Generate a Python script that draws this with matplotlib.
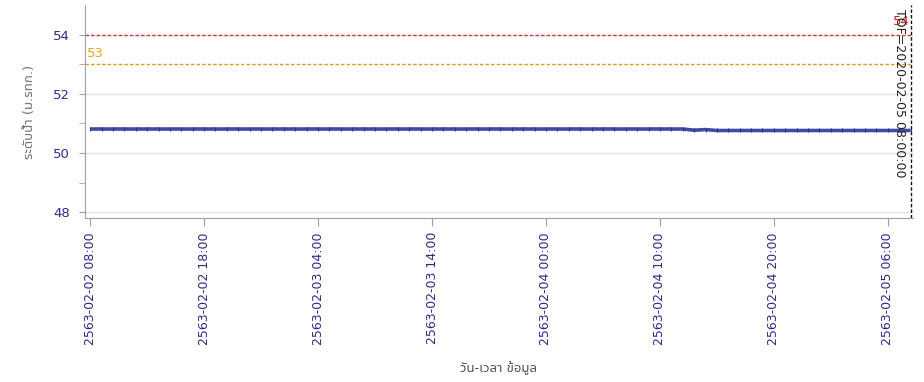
import matplotlib
matplotlib.use("Agg")
import matplotlib.pyplot as plt
from matplotlib.ticker import FixedLocator
import warnings
warnings.filterwarnings("ignore")

# ---- data ----
# hours since 2563-02-02 08:00 (hourly readings)
hours = list(range(0, 73))
water_level = [
    50.81, 50.81, 50.81, 50.81, 50.81, 50.81, 50.81, 50.81, 50.81, 50.81,
    50.81, 50.81, 50.81, 50.81, 50.81, 50.81, 50.81, 50.81, 50.81, 50.81,
    50.81, 50.81, 50.81, 50.81, 50.81, 50.81, 50.81, 50.81, 50.81, 50.81,
    50.81, 50.81, 50.81, 50.81, 50.81, 50.81, 50.81, 50.81, 50.81, 50.81,
    50.81, 50.81, 50.81, 50.81, 50.81, 50.81, 50.81, 50.81, 50.81, 50.81,
    50.81, 50.81, 50.81, 50.77, 50.79, 50.76, 50.76, 50.76, 50.76, 50.76,
    50.76, 50.76, 50.76, 50.76, 50.76, 50.76, 50.76, 50.76, 50.76, 50.76,
    50.76, 50.76, 50.76,
]
tick_hours = [0, 10, 20, 30, 40, 50, 60, 70]
tick_labels = [
    "2563-02-02 08:00", "2563-02-02 18:00", "2563-02-03 04:00",
    "2563-02-03 14:00", "2563-02-04 00:00", "2563-02-04 10:00",
    "2563-02-04 20:00", "2563-02-05 06:00",
]
level_red = 54
level_orange = 53
tof_hour = 72
tof_label = "TOF=2020-02-05 08:00:00"
y_label = "ระดับน้ำ (ม.รทก.)"
x_label = "วัน-เวลา ข้อมูล"

thai_fonts = ["DejaVu Sans", "Noto Sans Thai", "Noto Sans Thai UI", "Loma",
              "Garuda", "Tlwg Typo", "Norasi", "Noto Sans", "Lato"]
plt.rcParams["font.family"] = thai_fonts

fig = plt.figure(figsize=(9.24, 3.82), dpi=100)
ax = fig.add_axes([0.092, 0.429, 0.896, 0.558])

tick_color = "#2b2b8c"
ax.plot(hours, water_level, color="#3f4aa6", lw=2.6, marker="|",
        markersize=3.5, markeredgecolor="#2a3590", markeredgewidth=0.8,
        solid_capstyle="butt", zorder=3)

ax.axhline(level_red, color="#d03a3a", lw=1, ls=(0, (2.5, 1.5)), zorder=2)
ax.axhline(level_orange, color="#e29a1a", lw=1, ls=(0, (2.5, 1.5)), zorder=2)
ax.axvline(tof_hour, color="#111111", lw=1, ls=(0, (2.5, 1.5)), zorder=2)

ax.text(-0.25, level_orange + 0.13, str(level_orange), color="#e8a820",
        fontsize=9.5, ha="left", va="bottom")
ax.text(71.95, level_red + 0.22, str(level_red), color="#d82020",
        fontsize=9.5, ha="right", va="bottom", zorder=4)
ax.text(71.6, 54.85, tof_label, rotation=270, color="#222222", fontsize=9,
        ha="right", va="top", zorder=4)

ax.set_xlim(-0.45, 72.2)
ax.set_ylim(47.8, 55.0)
ax.yaxis.set_major_locator(FixedLocator([48, 50, 52, 54]))
ax.yaxis.set_minor_locator(FixedLocator([49, 51, 53]))
ax.grid(axis="y", which="major", color="#e2e2e2", lw=1, zorder=0)

ax.set_xticks(tick_hours)
ax.set_xticklabels(tick_labels, rotation=90, color=tick_color, fontsize=9)
for lab in ax.get_yticklabels():
    lab.set_color(tick_color)
    lab.set_fontsize(9.5)

for s in ["top", "right"]:
    ax.spines[s].set_visible(False)
for s in ["left", "bottom"]:
    ax.spines[s].set_color("#a0a0a0")
ax.tick_params(axis="x", colors="#a0a0a0", length=6, labelcolor=tick_color,
               pad=4)
ax.tick_params(axis="y", which="both", colors="#a0a0a0", length=4,
               labelcolor=tick_color, pad=7)

ax.set_ylabel(y_label, color="#707070", fontsize=9.5, labelpad=12)
ax.set_xlabel(x_label, color="#505050", fontsize=9.5, labelpad=12)

fig.savefig("out.png", dpi=100)
